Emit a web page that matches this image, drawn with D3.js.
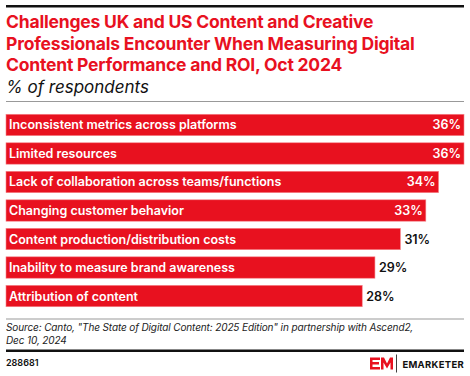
<!DOCTYPE html>
<html>
<head>
<meta charset="utf-8">
<script src="https://cdn.jsdelivr.net/npm/d3@7"></script>
<style>
  body { margin: 0; background: #fff; }
  svg { display: block; font-family: Inter, "Noto Sans", sans-serif; }
</style>
</head>
<body>
<svg width="470" height="376"></svg>
<script>
//data
const categories = [
    "Inconsistent metrics across platforms",
    "Limited resources",
    "Lack of collaboration across teams/functions",
    "Changing customer behavior",
    "Content production/distribution costs",
    "Inability to measure brand awareness",
    "Attribution of content"
];
const values = [36, 36, 34, 33, 31, 29, 28];
const titleLines = [
    "Challenges UK and US Content and Creative",
    "Professionals Encounter When Measuring Digital",
    "Content Performance and ROI, Oct 2024"
];
const subtitle = "% of respondents";
const sourceLines = [
    "Source: Canto, \"The State of Digital Content: 2025 Edition\" in partnership with Ascend2,",
    "Dec 10, 2024"
];
const chartId = "288681";

//constants
const red = "#e8111f";

let svg = d3.select("svg");

//top rule
svg.append("rect").attr("x", 6).attr("y", 5).attr("width", 458).attr("height", 2.5).attr("fill", "#111");

//title
svg.append("g").selectAll("text")
    .data(titleLines)
    .join("text")
    .attr("x", 6)
    .attr("y", (d, i) => 28 + i * 21.5)
    .attr("fill", red)
    .style("font-size", "17.5px")
    .style("font-weight", "bold")
    .style("letter-spacing", "-0.2px")
    .text(d => d);

svg.append("text")
    .attr("x", 6)
    .attr("y", 93)
    .attr("fill", "#111")
    .style("font-size", "17px")
    .style("font-style", "italic")
    .text(subtitle);

svg.append("rect").attr("x", 6).attr("y", 101).attr("width", 458).attr("height", 1).attr("fill", "#999");

//scales
let xScale = d3.scaleLinear()
    .domain([0, 36])
    .range([6, 464]);

let yScale = d3.scaleBand()
    .domain(categories)
    .range([110, 311])
    .paddingInner(0.25)
    .paddingOuter(0.15);

//bars
let rows = svg.append("g").selectAll("g")
    .data(categories.map((c, i) => ({c: c, v: values[i]})))
    .join("g");

rows.append("rect")
    .attr("x", xScale(0))
    .attr("y", d => yScale(d.c))
    .attr("width", d => xScale(d.v) - xScale(0))
    .attr("height", yScale.bandwidth())
    .attr("fill", red)
    .attr("stroke", "#f5868c")
    .attr("stroke-width", 0.6);

rows.append("text")
    .attr("x", xScale(0) + 3)
    .attr("y", d => yScale(d.c) + yScale.bandwidth() / 2)
    .attr("dy", "0.36em")
    .attr("fill", "#fff")
    .style("font-size", "12.5px")
    .style("font-weight", 600)
    .text(d => d.c);

//value labels: inside when bar is long, outside otherwise
rows.append("text")
    .attr("x", d => d.v >= 33 ? xScale(d.v) - 3 : xScale(d.v) + 4)
    .attr("y", d => yScale(d.c) + yScale.bandwidth() / 2)
    .attr("dy", "0.36em")
    .attr("text-anchor", d => d.v >= 33 ? "end" : "start")
    .attr("fill", d => d.v >= 33 ? "#fff" : "#111")
    .style("font-size", "12.5px")
    .style("font-weight", 600)
    .text(d => d.v + "%");

//source
svg.append("rect").attr("x", 6).attr("y", 318.5).attr("width", 458).attr("height", 1).attr("fill", "#999");

svg.append("g").selectAll("text")
    .data(sourceLines)
    .join("text")
    .attr("x", 6)
    .attr("y", (d, i) => 331 + i * 12.5)
    .attr("fill", "#222")
    .style("font-size", "10px")
    .style("font-style", "italic")
    .style("letter-spacing", "-0.12px")
    .text(d => d);

svg.append("rect").attr("x", 6).attr("y", 349.5).attr("width", 458).attr("height", 2.5).attr("fill", "#111");

svg.append("text")
    .attr("x", 6)
    .attr("y", 366)
    .attr("fill", "#111")
    .style("font-size", "9px")
    .style("font-weight", 600)
    .text(chartId);

//logo
let logo = svg.append("g").attr("transform", "translate(370,357.5)");
logo.append("path")
    .attr("d", "M0,0 H10 V2.5 H2.5 V4.5 H9 V7 H2.5 V9.5 H10 V12 H0 Z")
    .attr("fill", red);
logo.append("path")
    .attr("d", "M11,12 V0 H14 L17,6 L20,0 H23 V12 H20.5 V5 L17,11 L13.5,5 V12 Z")
    .attr("fill", red);
logo.append("rect").attr("x", 26).attr("y", -3).attr("width", 0.8).attr("height", 18).attr("fill", "#111");
svg.append("text")
    .attr("x", 464)
    .attr("y", 367.5)
    .attr("text-anchor", "end")
    .attr("fill", "#111")
    .style("font-size", "9.5px")
    .style("font-weight", "bold")
    .style("letter-spacing", "0.3px")
    .text("EMARKETER");
</script>
</body>
</html>
